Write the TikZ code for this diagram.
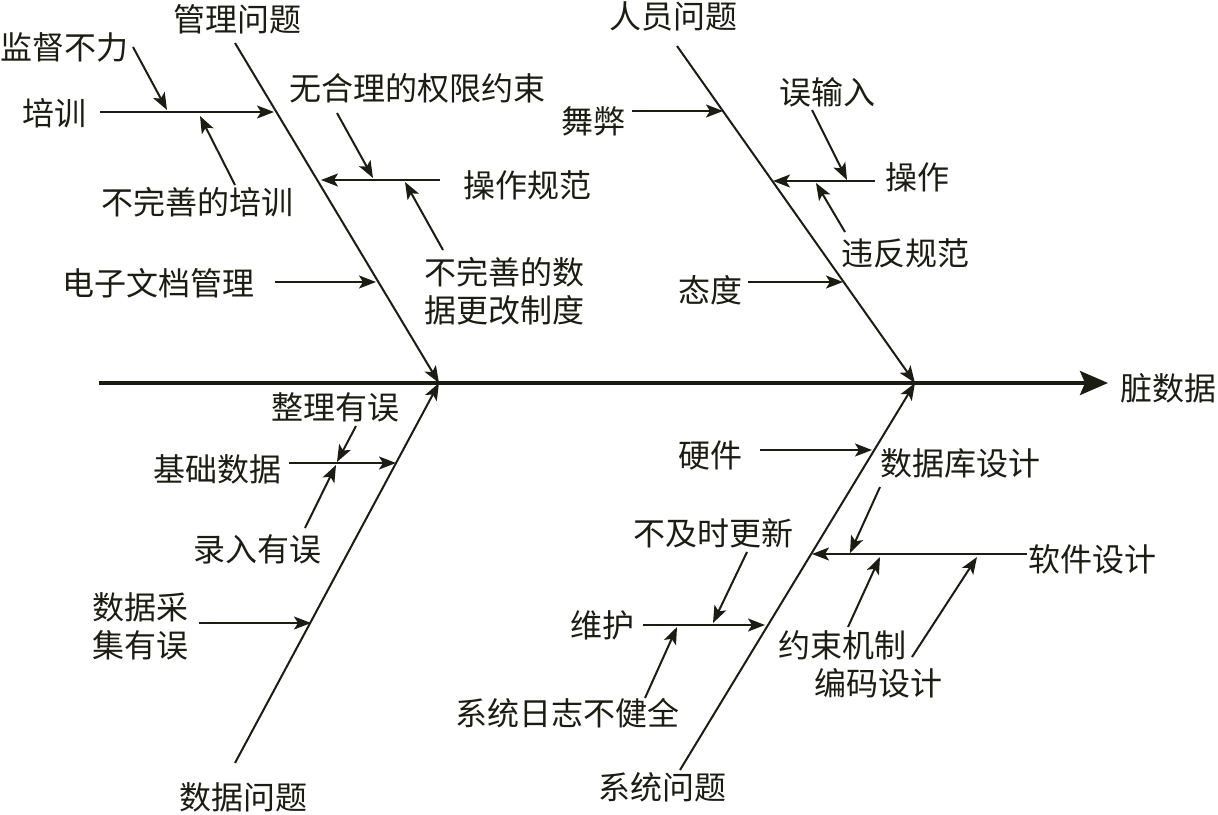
\documentclass[tikz,border=0pt]{standalone}
\usepackage{fontspec}
\setmainfont{Noto Sans CJK SC}
\usetikzlibrary{arrows.meta}
\definecolor{ink}{RGB}{28,28,18}
\tikzset{
  lbl/.style={inner sep=0pt, text=ink, font=\fontsize{32}{38}\selectfont, align=center},
  bone/.style={draw=ink, line width=2pt, -{Stealth[length=17pt,width=13pt,inset=4pt]}},
  sub/.style={draw=ink, line width=2pt, -{Stealth[length=17pt,width=13pt,inset=4pt]}},
  spine/.style={draw=ink, line width=3.4pt, -{Stealth[length=28pt,width=24pt,inset=5pt]}}
}
\begin{document}
\begin{tikzpicture}[x=1pt,y=-1pt]
\useasboundingbox (0,0) rectangle (1218,814);
% spine
\coordinate (spL) at (99,383);
\coordinate (spR) at (1108,383);
\node[lbl] (dirty) at (1168,388) {脏数据};
\draw[spine] (spL) -- (spR);
% junctions on spine
\coordinate (jL) at (439,383);
\coordinate (jR) at (915,383);

% ---------- management ----------
\node[lbl] (mgT) at (237,19) {管理问题};
\coordinate (mgS) at (235,43);
\draw[bone] (mgS) -- (jL);
\node[lbl] (t11) at (55,113) {培训};
\coordinate (a11s) at (100,112); \coordinate (a11e) at (274,112);
\draw[sub] (a11s) -- (a11e);
\node[lbl] (t12) at (65,47) {监督不力};
\coordinate (a12s) at (133,47); \coordinate (a12e) at (167,110);
\draw[sub] (a12s) -- (a12e);
\node[lbl] (t13) at (197,202) {不完善的培训};
\coordinate (a13s) at (235,185); \coordinate (a13e) at (200,116);
\draw[sub] (a13s) -- (a13e);
\node[lbl] (t14) at (417,88) {无合理的权限约束};
\coordinate (a14s) at (337,113); \coordinate (a14e) at (373,178);
\draw[sub] (a14s) -- (a14e);
\node[lbl] (t15) at (527,185) {操作规范};
\coordinate (a15s) at (440,180); \coordinate (a15e) at (321,180);
\draw[sub] (a15s) -- (a15e);
\node[lbl] (t16) at (504,291) {不完善的数\\据更改制度};
\coordinate (a16s) at (443,250); \coordinate (a16e) at (405,182);
\draw[sub] (a16s) -- (a16e);
\node[lbl] (t17) at (158,283) {电子文档管理};
\coordinate (a17s) at (275,282); \coordinate (a17e) at (376,282);
\draw[sub] (a17s) -- (a17e);

% ---------- people ----------
\node[lbl] (peT) at (673,16) {人员问题};
\coordinate (peS) at (677,46);
\draw[bone] (peS) -- (jR);
\node[lbl] (t21) at (593,121) {舞弊};
\coordinate (a21s) at (632,111); \coordinate (a21e) at (723,111);
\draw[sub] (a21s) -- (a21e);
\node[lbl] (t22) at (827,92) {误输入};
\coordinate (a22s) at (812,110); \coordinate (a22e) at (847,180);
\draw[sub] (a22s) -- (a22e);
\node[lbl] (t23) at (917,177) {操作};
\coordinate (a23s) at (875,181); \coordinate (a23e) at (773,181);
\draw[sub] (a23s) -- (a23e);
\node[lbl] (t24) at (905,253) {违反规范};
\coordinate (a24s) at (845,232); \coordinate (a24e) at (816,183);
\draw[sub] (a24s) -- (a24e);
\node[lbl] (t25) at (710,290) {态度};
\coordinate (a25s) at (748,282); \coordinate (a25e) at (843,282);
\draw[sub] (a25s) -- (a25e);

% ---------- data ----------
\node[lbl] (daT) at (243,797) {数据问题};
\coordinate (daS) at (235,763);
\draw[bone] (daS) -- (jL);
\node[lbl] (t31) at (217,469) {基础数据};
\coordinate (a31s) at (289,463); \coordinate (a31e) at (396,463);
\draw[sub] (a31s) -- (a31e);
\node[lbl] (t32) at (335,407) {整理有误};
\coordinate (a32s) at (356,426); \coordinate (a32e) at (337,462);
\draw[sub] (a32s) -- (a32e);
\node[lbl] (t33) at (257,549) {录入有误};
\coordinate (a33s) at (305,528); \coordinate (a33e) at (336,465);
\draw[sub] (a33s) -- (a33e);
\node[lbl] (t34) at (140,626) {数据采\\集有误};
\coordinate (a34s) at (199,623); \coordinate (a34e) at (311,623);
\draw[sub] (a34s) -- (a34e);

% ---------- system ----------
\node[lbl] (syT) at (662,787) {系统问题};
\coordinate (syS) at (680,770);
\draw[bone] (syS) -- (jR);
\node[lbl] (t41) at (710,455) {硬件};
\coordinate (a41s) at (760,450); \coordinate (a41e) at (872,450);
\draw[sub] (a41s) -- (a41e);
\node[lbl] (t42) at (960,463) {数据库设计};
\coordinate (a42s) at (880,487); \coordinate (a42e) at (850,553);
\draw[sub] (a42s) -- (a42e);
\node[lbl] (t43) at (1092,559) {软件设计};
\coordinate (a43s) at (1027,554); \coordinate (a43e) at (812,554);
\draw[sub] (a43s) -- (a43e);
\node[lbl] (t44) at (842,645) {约束机制};
\coordinate (a44s) at (848,627); \coordinate (a44e) at (880,557);
\draw[sub] (a44s) -- (a44e);
\node[lbl] (t45) at (878,683) {编码设计};
\coordinate (a45s) at (912,657); \coordinate (a45e) at (977,557);
\draw[sub] (a45s) -- (a45e);
\node[lbl] (t46) at (713,533) {不及时更新};
\coordinate (a46s) at (747,552); \coordinate (a46e) at (713,623);
\draw[sub] (a46s) -- (a46e);
\node[lbl] (t47) at (602,625) {维护};
\coordinate (a47s) at (643,625); \coordinate (a47e) at (765,625);
\draw[sub] (a47s) -- (a47e);
\node[lbl] (t48) at (567,713) {系统日志不健全};
\coordinate (a48s) at (645,698); \coordinate (a48e) at (677,627);
\draw[sub] (a48s) -- (a48e);
\end{tikzpicture}
\end{document}
